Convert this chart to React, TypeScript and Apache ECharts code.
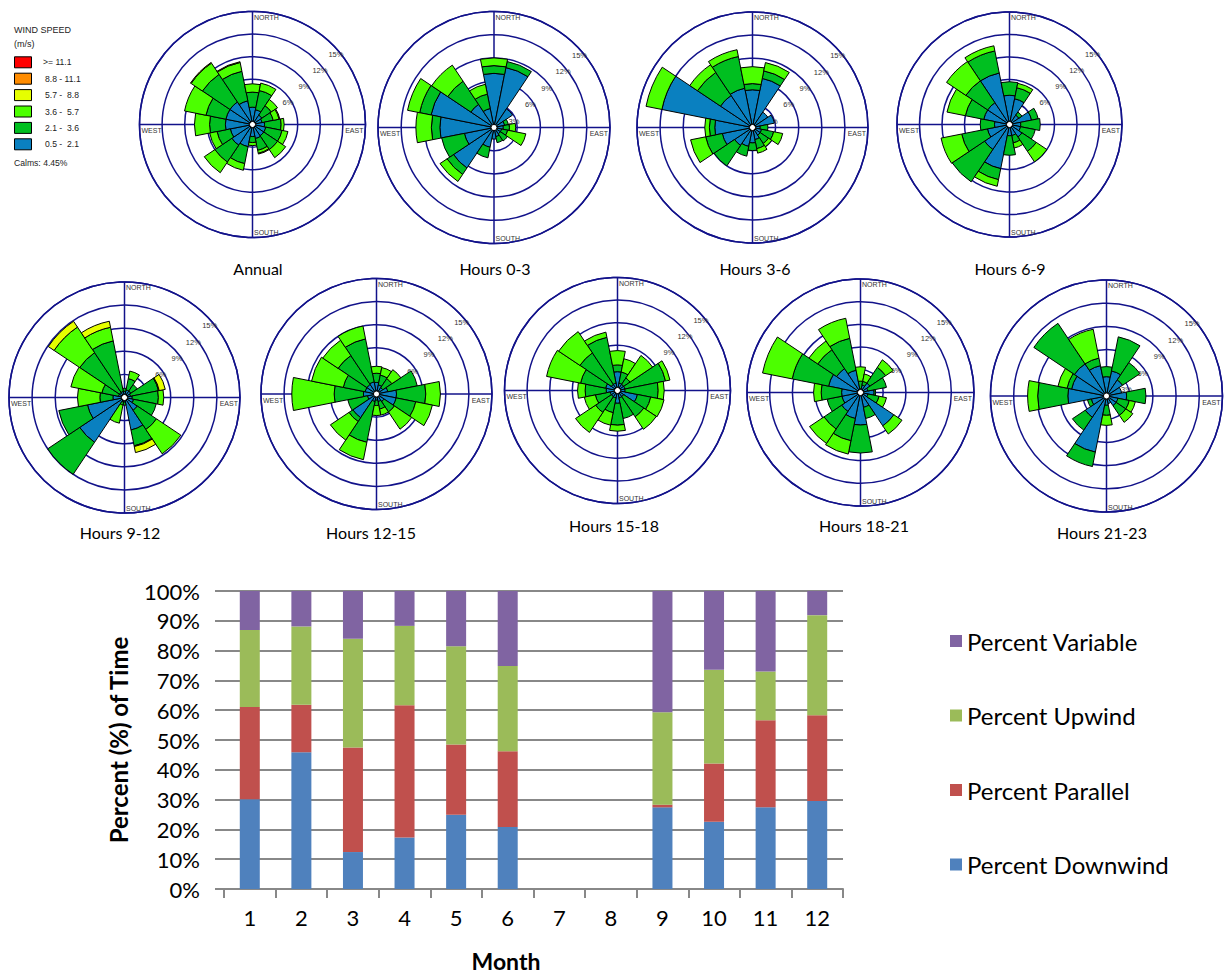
import React, { useEffect, useRef } from 'react';
import * as echarts from 'echarts';

// ---------- Wind rose data ----------
const DIRECTIONS = ['N', 'NNE', 'NE', 'ENE', 'E', 'ESE', 'SE', 'SSE', 'S', 'SSW', 'SW', 'WSW', 'W', 'WNW', 'NW', 'NNW'];
const SPEED_BINS = ['0.5 - 2.1', '2.1 - 3.6', '3.6 - 5.7', '5.7 - 8.8'];
const SPEED_COLORS = ['#0a80c0', '#00bf20', '#4cff00', '#e6ff00'];
const LEGEND_SPEED_LABELS = ['>= 11.1', '8.8 - 11.1', '5.7 -  8.8', '3.6 -  5.7', '2.1 -  3.6', '0.5 -  2.1'];
const LEGEND_SPEED_COLORS = ['#ff0000', '#ff8c00', '#e6ff00', '#4cff00', '#00bf20', '#0a80c0'];
const RING_TICKS = [3, 6, 9, 12, 15];
const CALMS_TEXT = 'Calms: 4.45%';
const ROSE_TITLES = ['Annual', 'Hours 0-3', 'Hours 3-6', 'Hours 6-9', 'Hours 9-12', 'Hours 12-15', 'Hours 15-18', 'Hours 18-21', 'Hours 21-23'];

// cumulative frequency (%) read at the end of each speed band, per direction (N clockwise)
const annual = [
  [2.3, 4.3, 5.4], [2.0, 4.6, 5.6], [1.5, 3.0, 4.0], [1.3, 2.8, 3.6, 3.7],
  [1.6, 3.8, 4.2], [1.8, 4.0, 4.8], [1.8, 4.0, 5.3], [1.9, 3.5, 3.9, 4.0],
  [1.6, 2.4, 2.8], [3.0, 5.3, 6.2], [3.3, 6.0, 7.7], [3.0, 4.8, 5.8],
  [3.6, 5.7, 7.7], [3.6, 6.3, 9.2], [3.6, 8.0, 9.8, 9.9], [3.2, 7.2, 8.4, 8.5],
];
const hours0to3 = [
  [7.0, 8.0, 9.0], [7.9, 8.7], [2.9], [1.4, 1.9],
  [1.2, 2.0, 2.8], [1.0, 1.8, 4.2], [1.0, 2.1], [1.2, 2.0],
  [1.5], [2.6, 4.0], [6.3, 7.3, 8.4], [3.9, 6.9],
  [7.0, 8.1, 10.1], [8.3, 9.8, 11.4], [3.6, 7.2, 9.7], [2.5, 4.4, 5.7],
];
const hours3to6 = [
  [4.9, 5.7, 7.9], [6.5, 7.5, 8.6], [2.4], [2.9],
  [1.0, 2.0], [1.2, 2.8, 4.0], [1.2, 2.5, 3.0], [1.6, 2.8, 3.4],
  [2.0, 3.0], [2.5, 3.8], [2.8, 6.0], [4.0, 6.2, 8.2],
  [4.9, 5.6, 6.2], [12.0, 12.0, 14.1], [5.0, 8.6, 9.8], [5.2, 9.4, 10.3],
];
const hours6to9 = [
  [3.9, 5.7], [3.5, 5.0, 5.6], [1.5, 2.0], [3.0, 3.9],
  [1.5, 4.1], [1.5, 3.5], [2.0, 4.3, 6.0], [1.5, 2.5, 3.2],
  [1.5, 4.1], [6.0, 7.5, 8.4], [4.0, 9.2], [3.0, 6.5, 9.3],
  [2.0, 3.9], [3.5, 6.0, 8.5], [3.5, 7.0, 10.1], [7.0, 10.0, 10.7],
];
const hours9to12 = [
  [0.8, 1.2], [1.0, 2.5, 3.5], [1.0, 2.0], [0.8, 4.5, 4.6, 5.4],
  [1.0, 4.4, 5.1], [1.2, 4.2], [2.0, 5.0, 8.8], [4.3, 6.4, 6.5, 7.3],
  [0.6, 1.0], [0.6, 1.0, 3.4], [7.0, 12.0], [4.9, 8.7],
  [1.5, 3.2, 6.1], [0.8, 3.0, 7.1], [0.8, 7.0, 11.0, 11.9], [0.8, 7.5, 9.3, 10.1],
];
const hours12to15 = [
  [1.5, 2.7, 3.6], [1.2, 2.5, 3.5], [1.0, 2.4, 3.8], [1.5, 5.4],
  [2.6, 6.4, 8.3], [2.6, 5.2, 7.4], [1.2, 2.8, 5.5], [1.0, 2.0, 2.8],
  [0.8, 1.5, 2.8], [1.0, 6.4, 8.7], [3.7, 4.3, 7.2], [1.2, 3.8],
  [1.7, 5.5, 11.0], [1.5, 4.4, 8.6], [1.5, 6.0, 8.4], [1.6, 7.3, 9.0],
];
const hours15to18 = [
  [2.5, 3.4, 5.3], [1.0, 2.5, 4.3], [1.0, 2.0, 5.6], [1.0, 6.5, 7.1],
  [1.0, 5.4, 6.2], [2.7, 4.5, 6.3], [1.0, 4.2, 6.2], [1.0, 3.8],
  [1.7, 4.6, 5.4], [1.0, 3.0, 4.7], [1.0, 3.5, 6.7], [1.0, 3.0, 4.5],
  [1.5, 4.3, 5.3], [1.6, 5.0, 9.6], [1.0, 6.0, 9.4], [1.0, 7.2, 7.9],
];
const hours18to21 = [
  [0.5, 1.5, 3.4], [1.0, 1.5, 2.5], [1.5, 4.0, 5.2], [1.0, 3.5],
  [1.8, 2.0], [1.0, 2.5, 3.5], [5.3, 5.3, 6.6], [2.0, 3.5],
  [4.3, 8.0], [3.5, 6.5, 8.3], [3.0, 5.8, 8.1], [2.5, 4.5],
  [2.5, 5.2, 6.2], [4.3, 9.2, 13.2], [3.8, 6.8, 8.2], [3.0, 7.3, 10.0],
];
const hours21to23 = [
  [2.5, 3.8], [3.3, 7.8], [2.5, 5.2], [2.0],
  [2.6, 5.1], [1.5, 3.0, 3.8], [1.5, 3.0, 4.1], [1.0],
  [1.2, 2.5, 3.8], [7.4, 9.3], [3.3, 5.3], [2.0, 2.5],
  [5.0, 8.9, 10.2], [4.6, 5.2, 6.4], [5.0, 11.3], [4.0, 5.0, 8.8],
];
const ROSE_DATA = [annual, hours0to3, hours3to6, hours6to9, hours9to12, hours12to15, hours15to18, hours18to21, hours21to23];

// ---------- Monthly bar chart data ----------
const MONTHS = ['1', '2', '3', '4', '5', '6', '7', '8', '9', '10', '11', '12'];
const percentDownwind = [30.1, 45.9, 12.4, 17.3, 24.9, 20.8, null, null, 27.4, 22.6, 27.4, 29.5];
const percentParallel = [31.0, 15.9, 35.1, 44.4, 23.6, 25.4, null, null, 0.9, 19.5, 29.2, 28.8];
const percentUpwind = [25.8, 26.3, 36.5, 26.6, 33.0, 28.6, null, null, 31.0, 31.5, 16.4, 33.6];
const percentVariable = [13.1, 11.9, 16.0, 11.7, 18.5, 25.2, null, null, 40.7, 26.4, 27.0, 8.1];
const BAR_SERIES = [
  { name: 'Percent Downwind', data: percentDownwind, color: '#4f81bd' },
  { name: 'Percent Parallel', data: percentParallel, color: '#c0504d' },
  { name: 'Percent Upwind', data: percentUpwind, color: '#9bbb59' },
  { name: 'Percent Variable', data: percentVariable, color: '#8064a2' },
];
const X_TITLE = 'Month';
const Y_TITLE = 'Percent (%) of Time';

// ---------- Layout ----------
const ROSE_LAYOUT = [
  { cx: 252.5, cy: 124.5, r: 113, tx: 258, ty: 268 },
  { cx: 494, cy: 127.5, r: 116, tx: 495, ty: 268 },
  { cx: 752.5, cy: 127.5, r: 115.5, tx: 755, ty: 268 },
  { cx: 1009.5, cy: 124.5, r: 112.5, tx: 1010, ty: 268 },
  { cx: 124.5, cy: 397.5, r: 115.5, tx: 120, ty: 532 },
  { cx: 376.5, cy: 394, r: 115.5, tx: 371, ty: 532 },
  { cx: 617.5, cy: 390.5, r: 113, tx: 614, ty: 525 },
  { cx: 860.5, cy: 392.5, r: 113.5, tx: 864, ty: 525 },
  { cx: 1106.5, cy: 396, r: 116, tx: 1102, ty: 532 },
];
const NAVY = '#12128a';
const SMALL_FONT = 'Liberation Sans, Arial, sans-serif';
const BIG_FONT = 'Lato, Carlito, sans-serif';

function buildOption() {
  const polar: any[] = [];
  const angleAxis: any[] = [];
  const radiusAxis: any[] = [];
  const series: any[] = [];
  const graphic: any[] = [];

  const txt = (text: string, x: number, y: number, align: string, va: string, size: number, z = 1, font = SMALL_FONT, fill = '#333', weight = 'normal') => ({
    type: 'text', z, silent: true, x, y,
    style: { text, fill, fontSize: size, fontFamily: font, fontWeight: weight, align, textAlign: align, verticalAlign: va, textVerticalAlign: va },
  });

  ROSE_LAYOUT.forEach((lay, i) => {
    polar.push({ center: [lay.cx, lay.cy], radius: lay.r });
    angleAxis.push({
      polarIndex: i, type: 'category', data: DIRECTIONS, startAngle: 101.25, clockwise: true, boundaryGap: true,
      axisLine: { show: true, lineStyle: { color: NAVY, width: 1.5 } },
      axisTick: { show: false }, axisLabel: { show: false }, splitLine: { show: false },
    });
    radiusAxis.push({
      polarIndex: i, type: 'value', min: 0, max: 15, interval: 3,
      axisLine: { show: false }, axisTick: { show: false }, axisLabel: { show: false },
      splitLine: { show: true, lineStyle: { color: NAVY, width: 1.5 } },
    });
    const rows = ROSE_DATA[i];
    SPEED_BINS.forEach((bin, b) => {
      const data = rows.map((cum) => {
        const hi = cum[b];
        if (hi == null) return null;
        const lo = b === 0 ? 0 : cum[b - 1];
        const v = Math.round((hi - lo) * 100) / 100;
        return v > 0 ? v : null;
      });
      series.push({
        type: 'bar', coordinateSystem: 'polar', polarIndex: i, stack: 'rose' + i, name: bin, data,
        barCategoryGap: '0%', silent: true,
        itemStyle: { color: SPEED_COLORS[b], borderColor: '#000', borderWidth: 1 },
      });
    });

    const { cx, cy, r } = lay;
    graphic.push({ type: 'line', z: 1, silent: true, shape: { x1: cx, y1: cy - r, x2: cx, y2: cy + r }, style: { stroke: NAVY, lineWidth: 1.5 } });
    graphic.push({ type: 'line', z: 1, silent: true, shape: { x1: cx - r, y1: cy, x2: cx + r, y2: cy }, style: { stroke: NAVY, lineWidth: 1.5 } });
    graphic.push(txt('NORTH', cx + 1.5, cy - r + 2, 'left', 'top', 7));
    graphic.push(txt('SOUTH', cx + 1.5, cy + r - 1.5, 'left', 'bottom', 7));
    graphic.push(txt('WEST', cx - r + 2, cy + 2.5, 'left', 'top', 7));
    graphic.push(txt('EAST', cx + r - 2, cy + 2.5, 'right', 'top', 7));
    RING_TICKS.forEach((t) => {
      const rr = (r * t) / 15;
      graphic.push(txt(t + '%', cx + rr * Math.SQRT1_2 + 3.5, cy - rr * Math.SQRT1_2 + 10, 'center', 'middle', 7.5));
    });
    graphic.push({ type: 'circle', z: 10, silent: true, shape: { cx, cy, r: 3 }, style: { fill: '#fff', stroke: '#000', lineWidth: 1 } });
    graphic.push(txt(ROSE_TITLES[i], lay.tx, lay.ty, 'center', 'middle', 16, 1, BIG_FONT, '#000'));
  });

  // wind speed legend (top-left)
  graphic.push(txt('WIND SPEED', 14, 29.5, 'left', 'middle', 9, 1, SMALL_FONT, '#222'));
  graphic.push(txt('(m/s)', 14, 43.5, 'left', 'middle', 9, 1, SMALL_FONT, '#222'));
  LEGEND_SPEED_LABELS.forEach((lab, k) => {
    const y = 56.8 + k * 16.4;
    graphic.push({ type: 'rect', silent: true, shape: { x: 14.5, y, width: 17, height: 11 }, style: { fill: LEGEND_SPEED_COLORS[k], stroke: '#000', lineWidth: 1 } });
    graphic.push(txt(lab, k === 0 ? 43 : 45, y + 5.5, 'left', 'middle', 8.6, 1, SMALL_FONT, '#222'));
  });
  graphic.push(txt(CALMS_TEXT, 14, 162.5, 'left', 'middle', 8.6, 1, SMALL_FONT, '#222'));

  // x-axis title (offset left of the plot centre as in the reference)
  graphic.push(txt(X_TITLE, 506, 972, 'center', 'bottom', 23, 1, BIG_FONT, '#000', 'bold'));

  BAR_SERIES.forEach((s) => {
    series.push({
      type: 'bar', name: s.name, data: s.data, stack: 'month', barWidth: 20,
      xAxisIndex: 0, yAxisIndex: 0, itemStyle: { color: s.color }, silent: true,
    });
  });

  const GRID_GREY = '#888888';
  return {
    animation: false,
    backgroundColor: '#ffffff',
    polar, angleAxis, radiusAxis,
    grid: [{ left: 224, top: 591, width: 619, height: 298 }],
    xAxis: [{
      type: 'category', data: MONTHS, gridIndex: 0,
      axisLine: { show: true, lineStyle: { color: GRID_GREY, width: 2 } },
      axisTick: { show: true, length: 9, lineStyle: { color: GRID_GREY, width: 2 } },
      axisLabel: { fontSize: 22, color: '#000', margin: 17, fontFamily: BIG_FONT },
    }],
    yAxis: [{
      type: 'value', min: 0, max: 100, interval: 10, gridIndex: 0,
      axisLine: { show: false },
      axisTick: { show: true, length: 9, lineStyle: { color: GRID_GREY, width: 2 } },
      splitLine: { show: true, lineStyle: { color: GRID_GREY, width: 2 } },
      axisLabel: { formatter: '{value}%', fontSize: 22, color: '#000', margin: 24, fontFamily: BIG_FONT },
      name: Y_TITLE, nameLocation: 'middle', nameGap: 94, nameRotate: 90,
      nameTextStyle: { fontSize: 24, fontWeight: 'bold', color: '#000', fontFamily: BIG_FONT },
    }],
    legend: [{
      data: ['Percent Variable', 'Percent Upwind', 'Percent Parallel', 'Percent Downwind'],
      orient: 'vertical', left: 945, top: 621, itemWidth: 12, itemHeight: 12, itemGap: 44.5,
      icon: 'rect', selectedMode: false,
      textStyle: { fontSize: 24, color: '#000', fontFamily: BIG_FONT, lineHeight: 30 },
    }],
    graphic: { elements: graphic },
    series,
  };
}

export default function App() {
  const ref = useRef<HTMLDivElement>(null);
  useEffect(() => {
    if (!ref.current) return;
    const chart = echarts.init(ref.current, undefined, { renderer: 'svg' });
    chart.setOption(buildOption() as any);
    return () => chart.dispose();
  }, []);
  return <div ref={ref} style={{ position: 'fixed', left: 0, top: 0, width: 1225, height: 974, background: '#fff' }} />;
}
